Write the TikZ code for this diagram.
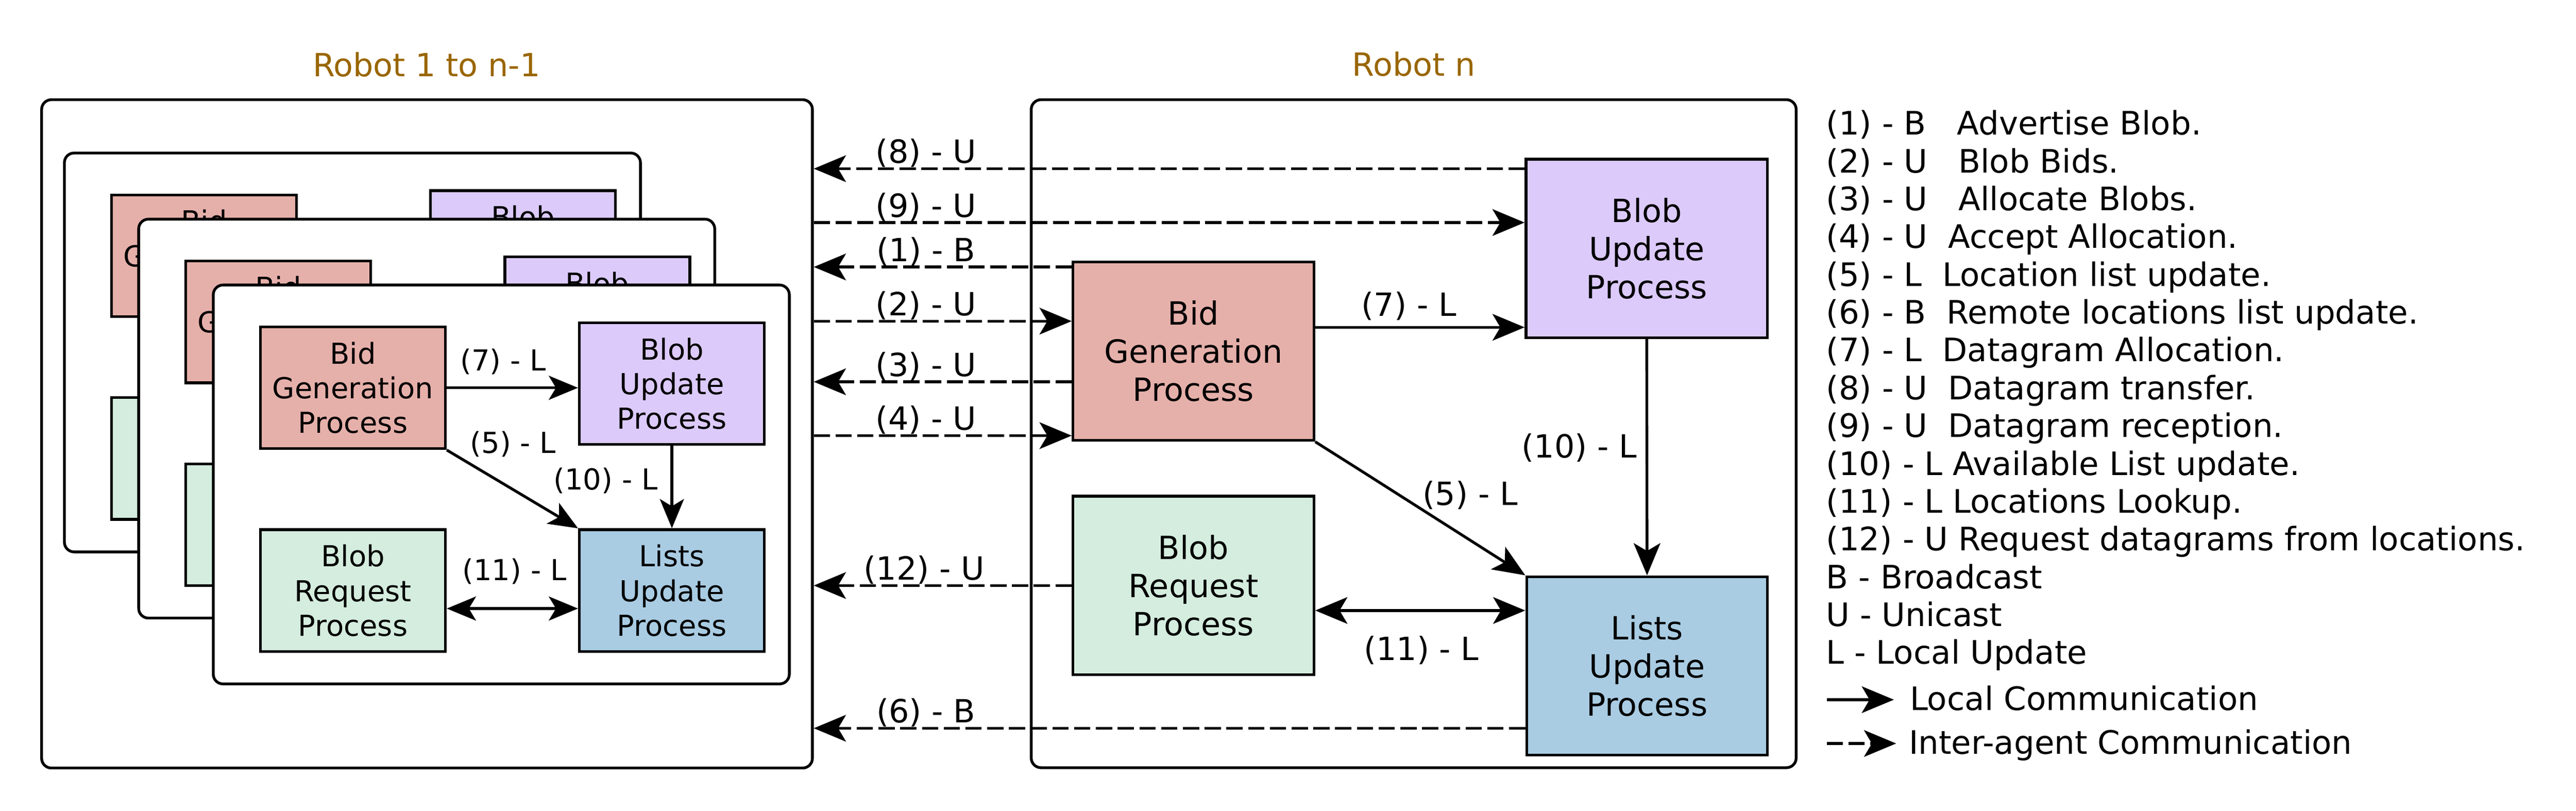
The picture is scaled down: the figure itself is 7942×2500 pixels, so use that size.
\documentclass[tikz,border=0pt]{standalone}
\usepackage{fontspec}
\setmainfont{DejaVu Sans}
\usetikzlibrary{arrows.meta}
\definecolor{bidc}{HTML}{E6B0AA}
\definecolor{buc}{HTML}{DCCAFB}
\definecolor{brc}{HTML}{D4EDDE}
\definecolor{luc}{HTML}{A9CCE3}
\definecolor{titlec}{HTML}{996600}
\newcommand\fbig{\fontsize{28}{33.3}\selectfont}
\newcommand\fleg{\fontsize{28.3}{33.3}\selectfont}
\newcommand\fsmall{\fontsize{25.3}{30.4}\selectfont}
\begin{document}
\begin{tikzpicture}[x=0.01cm,y=-0.01cm,line width=0.085cm,
  frame/.style={draw, fill=white, rounded corners=0.3cm, inner sep=0},
  proc/.style={draw, inner sep=0, align=center, font=\fbig, minimum width=7.42cm, minimum height=5.5cm},
  sproc/.style={draw, inner sep=0, align=center, font=\fsmall, minimum width=5.7cm, minimum height=3.75cm},
  loc/.style={-{Stealth[length=0.99cm,width=0.82cm,inset=0.24cm]}},
  bothloc/.style={{Stealth[length=0.99cm,width=0.82cm,inset=0.24cm]}-{Stealth[length=0.99cm,width=0.82cm,inset=0.24cm]}},
  sloc/.style={-{Stealth[length=0.9cm,width=0.74cm,inset=0.22cm]}},
  sbothloc/.style={{Stealth[length=0.9cm,width=0.74cm,inset=0.22cm]}-{Stealth[length=0.9cm,width=0.74cm,inset=0.22cm]}},
  dasharr/.style={loc, dash pattern=on 0.5cm off 0.17cm},
  lab/.style={anchor=base, font=\fbig, inner sep=0},
  slab/.style={anchor=base, font=\fsmall, inner sep=0},
  legtext/.style={anchor=base west, font=\fleg, inner sep=0},
  title/.style={anchor=base, font=\fbig, text=titlec, inner sep=0}]
\useasboundingbox (0,0) rectangle (7942,2500);

% titles
\node[title] (t1) at (1315,236) {Robot 1 to n-1};
\node[title] (tn) at (4359,235) {Robot n};

% outer frames
\node[frame, minimum width=23.75cm, minimum height=20.59cm] (r1) at (1316.5,1337.5) {};
\node[frame, minimum width=23.57cm, minimum height=20.58cm] (rn) at (4358.5,1337) {};

% stacked cards
\foreach \k/\dx/\dy in {1/-459/-407,2/-230/-203,3/0/0}{
  \begin{scope}[shift={(\dx,\dy)}]
    \node[frame, minimum width=17.75cm, minimum height=12.29cm] (c\k) at (1545.5,1493.5) {};
    \node[sproc, fill=bidc] (c\k-bg) at (1088,1195.5) {Bid\\Generation\\Process};
    \node[sproc, fill=buc] (c\k-bu) at (2071.5,1182.5) {Blob\\Update\\Process};
    \node[sproc, fill=brc] (c\k-br) at (1088,1820.5) {Blob\\Request\\Process};
    \node[sproc, fill=luc] (c\k-lu) at (2071.5,1820.5) {Lists\\Update\\Process};
  \end{scope}
}
% front card connectors
\coordinate (cy11) at (0,1876);
\draw[sloc] (c3-bg.east) -- (c3-bu.west |- c3-bg.east);
\draw[sloc] (c3-bg.south east) -- (c3-lu.north west);
\draw[sloc] (c3-bu.south) -- (c3-lu.north);
\draw[sbothloc] (c3-br.east |- cy11) -- (c3-lu.west |- cy11);
\node[slab] (cl7) at (1551,1143) {(7) - L};
\node[slab] (cl5) at (1582,1397) {(5) - L};
\node[slab] (cl10) at (1867,1510) {(10) - L};
\node[slab] (cl11) at (1586,1789) {(11) - L};

% robot n processes
\node[proc, fill=buc, minimum width=7.44cm] (bu) at (5077,766) {Blob\\Update\\Process};
\node[proc, fill=bidc] (bg) at (3679.5,1082.5) {Bid\\Generation\\Process};
\node[proc, fill=brc] (br) at (3679.5,1805) {Blob\\Request\\Process};
\node[proc, fill=luc] (lu) at (5078,2053) {Lists\\Update\\Process};

% robot n local connectors
\coordinate (y7) at (0,1009);
\coordinate (y11) at (0,1882);
\coordinate (bend5) at (4188,1446);
\draw[loc] (bg.east |- y7) -- (bu.west |- y7);
\draw[loc] (bg.south east) -- (bend5) -- (lu.north west);
\draw[loc] (bu.south) -- (lu.north);
\draw[bothloc] (br.east |- y11) -- (lu.west |- y11);
\node[lab] (l7) at (4344,975) {(7) - L};
\node[lab] (l10) at (4869,1412) {(10) - L};
\node[lab] (l5) at (4533,1557) {(5) - L};
\node[lab] (l11) at (4382,2035) {(11) - L};

% inter-agent connectors
\coordinate (y8) at (0,520);
\coordinate (y9) at (0,686);
\coordinate (y1) at (0,823);
\coordinate (y2) at (0,990);
\coordinate (y3) at (0,1177);
\coordinate (y4) at (0,1343);
\coordinate (y12) at (0,1805);
\coordinate (y6) at (0,2245);
\draw[dasharr] (bu.west |- y8) -- (r1.east |- y8);
\draw[dasharr] (r1.east |- y9) -- (bu.west |- y9);
\draw[dasharr] (bg.west |- y1) -- (r1.east |- y1);
\draw[dasharr] (r1.east |- y2) -- (bg.west |- y2);
\draw[dasharr] (bg.west |- y3) -- (r1.east |- y3);
\draw[dasharr] (r1.east |- y4) -- (bg.west |- y4);
\draw[dasharr] (br.west |- y12) -- (r1.east |- y12);
\draw[dasharr] (lu.west |- y6) -- (r1.east |- y6);
\node[lab] (l8) at (2855,503) {(8) - U};
\node[lab] (l9) at (2855,669) {(9) - U};
\node[lab] (l1) at (2855,806) {(1) - B};
\node[lab] (l2) at (2855,973) {(2) - U};
\node[lab] (l3) at (2855,1160) {(3) - U};
\node[lab] (l4) at (2855,1326) {(4) - U};
\node[lab] (l12) at (2849,1788) {(12) - U};
\node[lab] (l6) at (2855,2228) {(6) - B};

% legend
\foreach \i/\t in {1/{(1) - B~~~Advertise Blob.},
                   2/{(2) - U~~~Blob Bids.},
                   3/{(3) - U~~~Allocate Blobs.},
                   4/{(4) - U~~Accept Allocation.},
                   5/{(5) - L~~Location list update.},
                   6/{(6) - B~~Remote locations list update.},
                   7/{(7) - L~~Datagram Allocation.},
                   8/{(8) - U~~Datagram transfer.},
                   9/{(9) - U~~Datagram reception.},
                   10/{(10) - L Available List update.},
                   11/{(11) - L Locations Lookup.},
                   12/{(12) - U Request datagrams from locations.},
                   13/{B - Broadcast},
                   14/{U - Unicast},
                   15/{L - Local Update}}{
  \node[legtext] (leg\i) at (5626,{416+116.5*(\i-1)}) {\t};
}
\coordinate (la1) at (5632,2157);
\coordinate (la2) at (5839,2157);
\coordinate (lb1) at (5632,2292);
\coordinate (lb2) at (5846,2292);
\draw[loc] (la1) -- (la2);
\draw[dasharr] (lb1) -- (lb2);
\node[legtext] (lgl) at (5884,2190) {Local Communication};
\node[legtext] (lgi) at (5881,2324) {Inter-agent Communication};
\end{tikzpicture}
\end{document}
